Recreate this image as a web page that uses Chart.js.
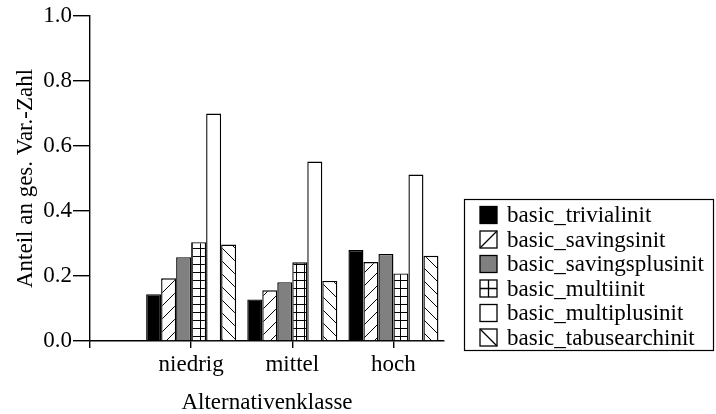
<!DOCTYPE html>
<html><head><meta charset="utf-8">
<script src="https://cdn.jsdelivr.net/npm/chart.js@4"></script>
<style>html,body{margin:0;padding:0;background:#fff}#wrap{width:716px;height:414px}</style>
</head><body><div id="wrap"><canvas id="c" width="716" height="414"></canvas></div>
<script>
// ---- data ----
const categories = ['niedrig', 'mittel', 'hoch'];
const seriesNames = ['basic_trivialinit', 'basic_savingsinit', 'basic_savingsplusinit',
                     'basic_multiinit', 'basic_multiplusinit', 'basic_tabusearchinit'];
const trivialinit     = [0.144, 0.128, 0.280];
const savingsinit     = [0.193, 0.156, 0.243];
const savingsplusinit = [0.258, 0.181, 0.268];
const multiinit       = [0.304, 0.242, 0.208];
const multiplusinit   = [0.700, 0.552, 0.512];
const tabusearchinit  = [0.297, 0.185, 0.262];
const yTicks = [0.0, 0.2, 0.4, 0.6, 0.8, 1.0];
const xTickPositions = [-1, 0, 1, 2];
const yTitle = 'Anteil an ges. Var.-Zahl';
const xTitle = 'Alternativenklasse';

// ---- patterns ----
function mk(s){const c=document.createElement('canvas');c.width=s;c.height=s;return c;}
function diag(dir){
  const s=13,c=mk(s),g=c.getContext('2d');
  g.fillStyle='#fff';g.fillRect(0,0,s,s);
  g.strokeStyle='#000';g.lineWidth=1;g.beginPath();
  for(let k=-1;k<=1;k++){
    if(dir==='/'){g.moveTo(k*s,s);g.lineTo(k*s+s,0);}
    else{g.moveTo(k*s,0);g.lineTo(k*s+s,s);}
  }
  g.stroke();
  return g.createPattern(c,'repeat');
}
function grid(){
  const s=8,c=mk(s),g=c.getContext('2d');
  g.fillStyle='#fff';g.fillRect(0,0,s,s);
  g.fillStyle='#000';g.fillRect(0,0,s,1);g.fillRect(0,0,1,s);
  return g.createPattern(c,'repeat');
}
const FONT = "'Liberation Serif', 'Times New Roman', serif";
const fills = ['#000000', diag('/'), '#808080', grid(), '#ffffff', diag('\\')];
const seriesValues = [trivialinit, savingsinit, savingsplusinit, multiinit, multiplusinit, tabusearchinit];

const datasets = seriesNames.map((n,k)=>({
  label:n,
  data: seriesValues[k].map((v,i)=>({x:i,y:v})),
  backgroundColor: fills[k],
  borderColor:'#000',
  borderWidth:1.4,
  categoryPercentage:0.89,
  barPercentage:1.0
}));

// custom legend with border
const legendPlugin = {
  id:'boxLegend',
  afterDraw(chart){
    const g=chart.ctx;
    const L=464,T=199,R=713,B=350;
    g.save();
    g.strokeStyle='#000';g.lineWidth=1.2;
    g.strokeRect(L+0.5,T+0.5,R-L,B-T);
    g.font='23px '+FONT;
    g.textBaseline='middle';
    g.fillStyle='#000';
    const sw=17, x0=480, y0=215, step=24.5;
    seriesNames.forEach((n,k)=>{
      const cy=y0+k*step, top=cy-sw/2;
      g.fillStyle = (k===0)?'#000':(k===2)?'#808080':'#fff';
      g.fillRect(x0,top,sw,sw);
      g.strokeStyle='#000';g.lineWidth=1.3;
      g.strokeRect(x0,top,sw,sw);
      g.beginPath();
      if(k===1){g.moveTo(x0,top+sw);g.lineTo(x0+sw,top);}
      if(k===5){g.moveTo(x0,top);g.lineTo(x0+sw,top+sw);}
      if(k===3){g.moveTo(x0+sw/2,top);g.lineTo(x0+sw/2,top+sw);g.moveTo(x0,top+sw/2);g.lineTo(x0+sw,top+sw/2);}
      g.stroke();
      g.fillStyle='#000';
      g.fillText(n,507,cy+1);
    });
    g.restore();
  }
};

new Chart(document.getElementById('c'),{
  type:'bar',
  data:{datasets},
  plugins:[legendPlugin],
  options:{
    responsive:false,
    devicePixelRatio:1,
    animation:false,
    layout:{padding:{left:0,right:272,top:16,bottom:0}},
    plugins:{legend:{display:false},tooltip:{enabled:false}},
    scales:{
      x:{
        type:'linear',
        min:-1,max:2.5,
        offset:false,
        grid:{offset:false,drawOnChartArea:false,drawTicks:true,tickLength:7,color:'#000',lineWidth:1.4},
        border:{color:'#000',width:1.4},
        afterBuildTicks(s){s.ticks=xTickPositions.map(v=>({value:v}));},
        afterFit(s){s.height=73;},
        ticks:{
          callback:(v)=>categories[v]!==undefined?categories[v]:'',
          color:'#000',font:{family:FONT,size:23},padding:3,maxRotation:0,autoSkip:false
        },
        title:{display:true,text:xTitle,color:'#000',font:{family:FONT,size:23,lineHeight:1},padding:{top:0,bottom:0}}
      },
      y:{
        min:0,max:1,
        grid:{drawOnChartArea:false,drawTicks:true,tickLength:17,color:'#000',lineWidth:1.4},
        border:{color:'#000',width:1.4},
        afterBuildTicks(s){s.ticks=yTicks.map(v=>({value:v}));},
        afterFit(s){s.width=90;},
        ticks:{callback:(v)=>Number(v).toFixed(1),color:'#000',font:{family:FONT,size:23},padding:1},
        title:{display:true,text:yTitle,color:'#000',font:{family:FONT,size:23,lineHeight:1},padding:{top:14,bottom:0}}
      }
    }
  }
});
</script></body></html>
